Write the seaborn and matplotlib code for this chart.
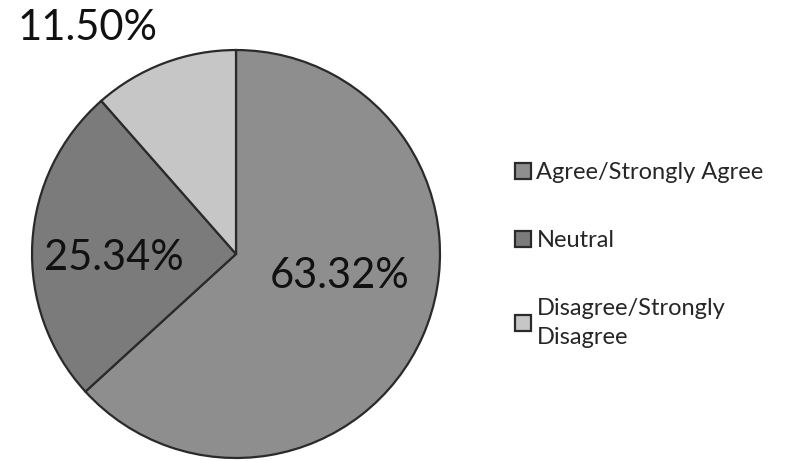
import numpy as np
import pandas as pd
import seaborn as sns
import matplotlib.pyplot as plt

# data
categories = ['Agree/Strongly Agree', 'Neutral', 'Disagree/Strongly\nDisagree']
shares = [63.32, 25.34, 11.50]
pct_labels = ['63.32%', '25.34%', '11.50%']

colors = ['#8e8e8e', '#7b7b7b', '#c6c6c6']
# label positions in pie units (x, y)
label_pos = [(0.51, -0.11), (-0.60, -0.02), (-0.73, 1.11)]

sns.set_theme(style='white')
plt.rcParams['font.family'] = ['Lato', 'DejaVu Sans']

df = pd.DataFrame({'category': categories, 'share': shares})

fig = plt.figure(figsize=(7.85, 4.61), dpi=100)
ax = fig.add_axes([0.0408, 0.0065, 0.5197, 0.885])

wedges, _ = ax.pie(df['share'], colors=colors, startangle=90, counterclock=False,
                   wedgeprops=dict(edgecolor='#2a2a2a', linewidth=1.6))
ax.set_xlim(-1, 1)
ax.set_ylim(-1, 1)
ax.set_aspect('equal')
ax.axis('off')

for (x, y), txt in zip(label_pos, pct_labels):
    ax.text(x, y, txt, ha='center', va='center', fontsize=30, color='#111111',
            clip_on=False)

leg = fig.legend(wedges, df['category'], loc='center left',
                 bbox_to_anchor=(0.656, 0.447), frameon=False, fontsize=17,
                 handlelength=0.66, handleheight=0.66, handletextpad=0.25,
                 labelspacing=2.0, borderaxespad=0, borderpad=0)
for t in leg.get_texts():
    t.set_linespacing(1.45)

fig.savefig('out.png', dpi=100)
